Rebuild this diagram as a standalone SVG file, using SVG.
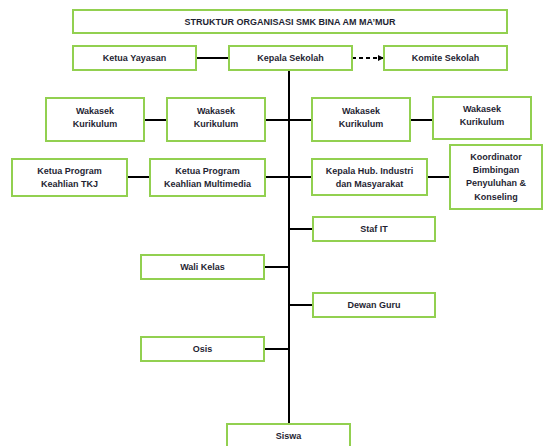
<svg xmlns="http://www.w3.org/2000/svg" width="543" height="446" viewBox="0 0 543 446">
<style>
.b{fill:#fff;stroke:#92d050;stroke-width:2}
.t{font-family:"Liberation Sans",Arial,sans-serif;font-weight:bold;font-size:9px;fill:#1f1f33;text-anchor:middle}
.c{stroke:#000;stroke-width:2;fill:none}
</style>
<defs>
<marker id="ah" markerWidth="6" markerHeight="6" refX="5" refY="3" orient="auto" markerUnits="userSpaceOnUse"><path d="M0,0 L6,3 L0,6 z" fill="#000"/></marker>
</defs>
<rect width="543" height="446" fill="#fff"/>
<g id="connectors">
<line class="c" x1="289" y1="70" x2="289" y2="424"/>
<line class="c" x1="196" y1="58" x2="229" y2="58"/>
<line class="c" x1="352" y1="58" x2="383" y2="58" stroke-dasharray="4,3" marker-end="url(#ah)"/>
<line class="c" x1="144" y1="120" x2="167" y2="120"/>
<line class="c" x1="265" y1="120" x2="312" y2="120"/>
<line class="c" x1="410" y1="120" x2="433" y2="120"/>
<line class="c" x1="127" y1="177" x2="150" y2="177"/>
<line class="c" x1="265" y1="177" x2="312" y2="177"/>
<line class="c" x1="427" y1="177" x2="450" y2="177"/>
<line class="c" x1="289" y1="229" x2="313" y2="229"/>
<line class="c" x1="264" y1="267" x2="289" y2="267"/>
<line class="c" x1="289" y1="305" x2="313" y2="305"/>
<line class="c" x1="264" y1="349" x2="289" y2="349"/>
</g>
<g id="title"><rect class="b" x="73" y="10" width="434" height="23"/><text class="t" x="290" y="25">STRUKTUR ORGANISASI SMK BINA AM MA’MUR</text></g>
<g id="ketua-yayasan"><rect class="b" x="73" y="46" width="123" height="24"/><text class="t" x="134.5" y="61">Ketua Yayasan</text></g>
<g id="kepala-sekolah"><rect class="b" x="229" y="46" width="123" height="24"/><text class="t" x="290.5" y="61">Kepala Sekolah</text></g>
<g id="komite-sekolah"><rect class="b" x="384" y="46" width="123" height="24"/><text class="t" x="445.5" y="61">Komite Sekolah</text></g>
<g id="wakasek1"><rect class="b" x="46" y="98" width="98" height="43"/><text class="t" x="95" y="114">Wakasek</text><text class="t" x="95" y="127">Kurikulum</text></g>
<g id="wakasek2"><rect class="b" x="167" y="98" width="98" height="43"/><text class="t" x="216" y="114">Wakasek</text><text class="t" x="216" y="127">Kurikulum</text></g>
<g id="wakasek3"><rect class="b" x="312" y="98" width="98" height="43"/><text class="t" x="361" y="114">Wakasek</text><text class="t" x="361" y="127">Kurikulum</text></g>
<g id="wakasek4"><rect class="b" x="433" y="97" width="98" height="42"/><text class="t" x="482" y="112">Wakasek</text><text class="t" x="482" y="125">Kurikulum</text></g>
<g id="kaprog-tkj"><rect class="b" x="12" y="159" width="115" height="37"/><text class="t" x="69.5" y="174">Ketua Program</text><text class="t" x="69.5" y="187">Keahlian TKJ</text></g>
<g id="kaprog-mm"><rect class="b" x="150" y="159" width="115" height="37"/><text class="t" x="207.5" y="174">Ketua Program</text><text class="t" x="207.5" y="187">Keahlian Multimedia</text></g>
<g id="hubin"><rect class="b" x="312" y="159" width="115" height="36"/><text class="t" x="369.5" y="174">Kepala Hub. Industri</text><text class="t" x="369.5" y="187">dan Masyarakat</text></g>
<g id="bk"><rect class="b" x="450" y="145" width="92" height="64"/><text class="t" x="496" y="160">Koordinator</text><text class="t" x="496" y="173">Bimbingan</text><text class="t" x="496" y="186">Penyuluhan &amp;</text><text class="t" x="496" y="200">Konseling</text></g>
<g id="staf-it"><rect class="b" x="313" y="217" width="122" height="24"/><text class="t" x="374" y="232">Staf IT</text></g>
<g id="wali-kelas"><rect class="b" x="141" y="255" width="123" height="24"/><text class="t" x="202.5" y="270">Wali Kelas</text></g>
<g id="dewan-guru"><rect class="b" x="313" y="293" width="122" height="24"/><text class="t" x="374" y="308">Dewan Guru</text></g>
<g id="osis"><rect class="b" x="141" y="337" width="123" height="24"/><text class="t" x="202.5" y="352">Osis</text></g>
<g id="siswa"><rect class="b" x="227" y="424" width="123" height="30"/><text class="t" x="288.5" y="439">Siswa</text></g>
</svg>
